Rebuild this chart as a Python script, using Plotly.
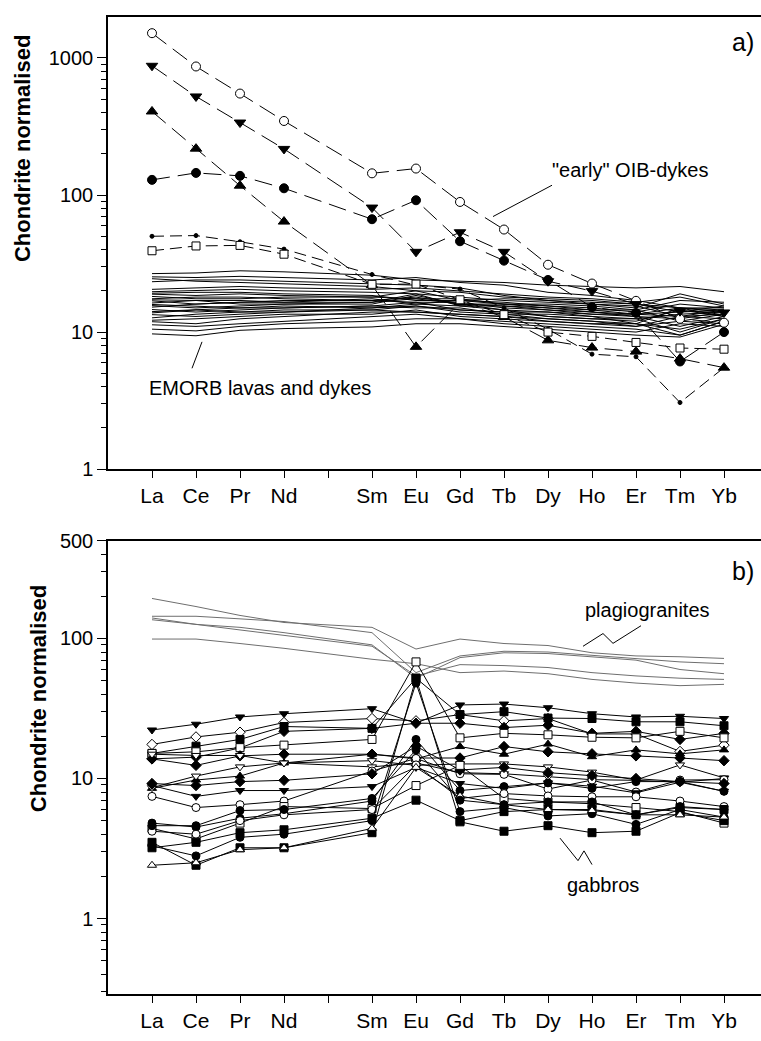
import plotly.graph_objects as go

W, H = 761, 1041

ELEMENTS = ["La", "Ce", "Pr", "Nd", "Pm", "Sm", "Eu", "Gd", "Tb", "Dy", "Ho", "Er", "Tm", "Yb"]
TICK_TEXT = ["" if e == "Pm" else e for e in ELEMENTS]
REE = [e for e in ELEMENTS if e != "Pm"]
XPOS = [ELEMENTS.index(e) for e in REE]

# ---------------- panel a : "early" OIB dykes (dashed, with markers) -------------
oib_open_circle = [1517, 867, 550, 347, 144, 156, 89, 56, 31, 22.6, 16.9, 12.5, 11.7]
oib_down_tri = [877, 524, 338, 217, 81, 38.5, 53.5, 38.5, 23.5, 19.9, 16.0, 14.2, 13.9]
oib_up_tri = [407, 218, 117, 64, 22, 7.8, 16.4, 12.9, 8.7, 7.7, 7.2, 6.4, 5.5]
oib_filled_circle = [129, 145, 138, 112, 66.6, 91.6, 46, 33.2, 24, 15.2, 13.8, 6.1, 10]
oib_small_dot = [50, 50.6, 45.6, 40.3, 26.3, 22.0, 20.6, 15.0, 10.5, 6.9, 6.6, 3.06, 5.5]
oib_open_square = [39.2, 42.5, 42.9, 37, 22.3, 22.4, 17.2, 13.4, 10, 9.3, 8.4, 7.65, 7.5]

# ---------------- panel a : EMORB lavas and dykes (solid, no markers) -------------
emorb = [
    [26.7, 27.0, 28.0, 27.5, 26.0, 24.0, 23.5, 23.0, 22.0, 21.5, 21.0, 21.5, 19.7],
    [25.3, 25.0, 25.5, 25.0, 24.0, 25.0, 23.0, 22.0, 19.5, 18.5, 17.0, 15.0, 14.5],
    [23.3, 24.0, 24.0, 23.5, 22.5, 22.0, 21.0, 18.5, 17.0, 16.0, 15.0, 19.0, 16.0],
    [19.7, 20.0, 20.5, 20.0, 19.5, 19.0, 18.0, 17.0, 16.5, 16.0, 15.5, 13.0, 14.5],
    [18.9, 18.5, 19.0, 18.5, 18.0, 20.0, 17.0, 16.5, 15.5, 15.0, 14.0, 16.0, 15.0],
    [18.2, 17.5, 17.5, 18.0, 18.0, 17.5, 17.5, 16.0, 15.5, 14.5, 14.5, 12.0, 13.5],
    [17.5, 18.0, 18.0, 17.5, 17.0, 18.0, 16.0, 15.5, 15.0, 14.0, 13.5, 15.0, 14.0],
    [16.9, 16.0, 16.5, 17.0, 17.0, 16.5, 16.5, 15.0, 14.5, 14.0, 13.0, 11.0, 13.0],
    [16.3, 17.0, 17.0, 16.5, 16.5, 19.0, 15.5, 15.5, 14.5, 13.5, 13.5, 14.0, 14.5],
    [15.6, 15.0, 15.5, 16.0, 16.5, 17.5, 16.0, 14.5, 14.0, 13.0, 12.5, 10.0, 12.5],
    [15.2, 16.0, 16.5, 16.5, 17.5, 16.0, 17.0, 16.0, 15.0, 14.5, 13.5, 13.0, 13.5],
    [14.6, 14.0, 14.5, 15.0, 15.5, 16.5, 14.5, 14.0, 13.0, 12.5, 12.0, 14.5, 13.0],
    [14.1, 14.5, 15.0, 15.0, 15.5, 15.0, 15.0, 13.5, 13.5, 13.0, 11.5, 9.5, 12.0],
    [13.4, 13.0, 13.5, 14.0, 15.0, 16.0, 15.5, 14.5, 13.0, 12.5, 12.5, 13.5, 14.0],
    [12.7, 13.5, 14.0, 14.0, 14.5, 15.5, 14.0, 13.5, 12.5, 12.0, 11.0, 12.0, 11.5],
    [11.9, 11.5, 12.5, 13.0, 14.0, 14.0, 13.5, 13.0, 12.0, 11.5, 11.5, 15.0, 13.0],
    [11.3, 11.0, 11.5, 12.0, 13.0, 13.5, 12.5, 12.0, 11.5, 11.0, 10.5, 9.5, 12.0],
    [10.5, 10.2, 11.0, 11.5, 12.0, 12.5, 12.5, 11.5, 11.0, 10.5, 10.0, 11.5, 11.0],
    [9.7, 9.4, 10.3, 10.6, 10.9, 11.5, 11.5, 11.0, 10.5, 10.0, 9.5, 9.2, 11.4],
    [19.2, 19.5, 19.5, 19.0, 18.5, 17.0, 17.0, 17.5, 17.0, 16.5, 16.0, 14.0, 15.5],
    [17.2, 17.0, 16.0, 16.0, 16.0, 18.5, 16.0, 16.0, 16.0, 15.5, 14.5, 17.0, 16.5],
    [13.8, 14.5, 14.0, 14.5, 14.5, 14.0, 13.5, 13.0, 12.5, 12.0, 11.5, 10.5, 12.5],
    [12.2, 12.5, 13.0, 13.5, 13.5, 14.5, 13.0, 12.5, 12.0, 11.5, 11.0, 13.0, 12.5],
    [15.9, 15.5, 15.0, 15.5, 15.0, 15.5, 14.5, 14.0, 14.0, 13.5, 13.0, 12.5, 14.0],
    [20.5, 21.0, 21.5, 21.0, 20.5, 21.0, 20.0, 19.0, 18.0, 17.5, 16.5, 18.0, 15.5],
    [24.5, 23.5, 23.0, 22.5, 21.5, 20.0, 19.5, 18.0, 17.5, 17.0, 16.0, 15.0, 15.0],
]

# ---------------- panel b : plagiogranites (grey, no markers) -------------
plagiogranites = [
    [193, 169, 146, 130, 120, 84, 99, 92, 89, 79, 75, 74, 72],
    [144, 144, 138, 132, 110, 57, 75, 81, 80, 76, 72, 68, 66],
    [140, 126, 120, 110, 90, 52, 73, 79, 78, 74, 70, 60, 56],
    [136, 126, 115, 105, 88, 54, 65, 64, 62, 57, 54, 52, 51],
    [99, 99, 92, 85, 71, 66, 57, 58.5, 56, 51, 48, 46, 47],
]

# ---------------- panel b : gabbros (solid, with markers) -------------
gabbros = [
    ("triangle-down", True, [22.2, 24.4, 27.5, 29, 31.5, 24.8, 33.5, 34, 32, 29, 27.5, 27.8, 26.8]),
    ("diamond", False, [17.5, 19.8, 21.4, 25.1, 26.8, 25.8, 28.6, 25.8, 26.8, 20.8, 20.8, 15.6, 17.3]),
    ("square", True, [15.1, 17, 19, 23.5, 22.8, 52, 28.6, 30, 27, 26.8, 25.4, 25.4, 23.8]),
    ("diamond", True, [13.8, 14.2, 16.5, 21.7, 22.8, 24.8, 24.8, 23.1, 24, 21, 21.7, 19, 21]),
    ("square", False, [15.1, 15.5, 16.6, 17.3, 19, 68, 19.5, 21, 20.5, 19.7, 19.5, 21.7, 19.5]),
    ("diamond", True, [13.8, 12.4, 14.5, 14.9, 14.9, 14, 14, 16.9, 15.5, 15, 14.5, 14, 13.4]),
    ("triangle-up", True, [8.5, 9.75, 10.4, 12.9, 14.9, 13.8, 16.9, 14.9, 17.6, 14.3, 16, 15, 16]),
    ("triangle-down", False, [14.9, 14.6, 14.6, 12.9, 13.4, 12.4, 12.7, 12.7, 12.1, 11.1, 9.75, 12.5, 10.1]),
    ("triangle-down", False, [8.6, 10.4, 12.1, 12.9, 12.1, 12.9, 11, 10.8, 10.3, 9.8, 9.7, 9.4, 10]),
    ("circle", False, [7.45, 6.2, 6.5, 6.9, 11.3, 13.9, 10.8, 10.7, 8.4, 9.75, 8, 9.75, 9.8]),
    ("triangle-down", True, [8.9, 7.45, 8.2, 8.2, 8.75, 12, 9.2, 8.5, 9.3, 8.8, 7.9, 9.4, 8.1]),
    ("diamond", True, [9.2, 8.9, 9.5, 9.7, 10.8, 17, 11.5, 12, 11, 10.5, 10, 9.5, 9.2]),
    ("circle", True, [4.8, 4.5, 5.2, 5.6, 6.9, 19, 8.2, 8.75, 9.3, 8.5, 9.5, 9.5, 8.1]),
    ("square", False, [4.4, 3.7, 4.8, 6.3, 6.1, 8.9, 12.4, 7.2, 6.8, 6.6, 6.2, 5.8, 4.8]),
    ("circle", False, [4.2, 4.0, 5.0, 5.5, 6.0, 12.5, 7.2, 7.8, 7.5, 7.4, 7.4, 6.9, 6.3]),
    ("square", True, [3.5, 2.4, 3.2, 3.2, 4.1, 52, 4.9, 4.2, 4.6, 4.1, 4.2, 5.7, 5.0]),
    ("circle", True, [3.3, 2.8, 3.8, 4.0, 5.0, 48, 5.8, 6.2, 5.4, 5.6, 4.7, 6.0, 5.3]),
    ("square", True, [3.2, 3.5, 4.1, 4.3, 5.2, 7.0, 5.0, 5.8, 6.0, 6.0, 5.5, 6.2, 6.0]),
    ("triangle-up", False, [2.4, 2.5, 3.1, 3.2, 4.4, 12, 7.5, 6.5, 6.0, 5.9, 5.5, 5.5, 5.3]),
    ("circle", True, [4.6, 4.6, 5.9, 6.0, 7.2, 16, 7.0, 6.5, 6.8, 6.8, 5.5, 6.3, 6.0]),
]

fig = go.Figure()


def marker(symbol, filled, size):
    return dict(symbol=symbol, size=size, color="black" if filled else "white",
                line=dict(color="black", width=1))


# panel a
for vals in emorb:
    fig.add_trace(go.Scatter(x=XPOS, y=vals, mode="lines", xaxis="x", yaxis="y",
                             line=dict(color="black", width=1), hoverinfo="skip"))

oib = [
    (oib_open_circle, "circle", False, 9, "18px,8px"),
    (oib_down_tri, "triangle-down", True, 10, "18px,8px"),
    (oib_up_tri, "triangle-up", True, 10, "18px,8px"),
    (oib_filled_circle, "circle", True, 9, "18px,8px"),
    (oib_small_dot, "circle", True, 4, "12px,6px"),
    (oib_open_square, "square", False, 8, "12px,6px"),
]
for vals, sym, filled, size, dash in oib:
    fig.add_trace(go.Scatter(x=XPOS, y=vals, mode="lines+markers", xaxis="x", yaxis="y",
                             line=dict(color="black", width=1, dash=dash),
                             marker=marker(sym, filled, size)))

# panel b
for vals in plagiogranites:
    fig.add_trace(go.Scatter(x=XPOS, y=vals, mode="lines", xaxis="x2", yaxis="y2",
                             line=dict(color="#6e6e6e", width=1)))
for sym, filled, vals in gabbros:
    fig.add_trace(go.Scatter(x=XPOS, y=vals, mode="lines+markers", xaxis="x2", yaxis="y2",
                             line=dict(color="black", width=1),
                             marker=marker(sym, filled, 8)))

XL = 108
xr = [-1, (W - XL) / 44 - 1]
tickfont_x = dict(family="Liberation Sans Narrow, Arial Narrow, Liberation Sans, Arial", size=21, color="black")
tickfont_y = dict(family="Liberation Sans, Arial", size=20, color="black")


def xaxis(anchor):
    return dict(domain=[XL / W, 1], range=xr, tickmode="array", tickvals=list(range(len(ELEMENTS))),
                ticktext=TICK_TEXT, ticks="outside", ticklen=7, tickwidth=1, tickcolor="black",
                showline=True, linecolor="black", linewidth=1.5, mirror=True, showgrid=False,
                zeroline=False, tickfont=tickfont_x, anchor=anchor, fixedrange=True)


def minor_vals(lo, hi):
    out = []
    d = 0.1
    while d < 10000:
        for m in range(2, 10):
            v = m * d
            if lo < v < hi:
                out.append(round(v, 4))
        d *= 10
    return out


def yaxis(rng_lo, rng_hi, tv, tt, dom, anchor):
    import math
    return dict(type="log", range=[math.log10(rng_lo), math.log10(rng_hi)], domain=dom,
                tickmode="array", tickvals=tv, ticktext=tt, ticks="outside", ticklen=9,
                tickwidth=1, tickcolor="black", showline=True, linecolor="black", linewidth=1.5,
                showgrid=False, zeroline=False, tickfont=tickfont_y, anchor=anchor,
                minor=dict(tickmode="array", tickvals=minor_vals(rng_lo, rng_hi), ticks="outside",
                           ticklen=5, tickwidth=1, tickcolor="black", showgrid=False))


fig.update_layout(
    width=W, height=H, margin=dict(l=0, r=0, t=0, b=0),
    paper_bgcolor="white", plot_bgcolor="white", showlegend=False,
    xaxis=xaxis("y"),
    yaxis=yaxis(1, 1995, [1, 10, 100, 1000], ["1", "10", "100", "1000"],
                [1 - 468 / H, 1 - 6 / H], "x"),
    xaxis2=xaxis("y2"),
    yaxis2=yaxis(0.29, 500, [1, 10, 100, 500], ["1", "10", "100", "500"],
                 [1 - 1004 / H, 1 - 541 / H], "x2"),
)


def px(x):
    return x / W


def py(y):
    return 1 - y / H


ann_font = dict(family="Liberation Sans, Arial", size=20, color="black")
annotations = [
    dict(x=px(22), y=py(141), text="Chondrite normalised", textangle=-90, showarrow=False,
         font=dict(family="Liberation Sans, Arial", size=22, color="black", weight="bold")),
    dict(x=px(38), y=py(703), text="Chondrite normalised", textangle=-90, showarrow=False,
         font=dict(family="Liberation Sans, Arial", size=22, color="black", weight="bold")),
    dict(x=px(743), y=py(32), text="a)", showarrow=False,
         font=dict(family="Liberation Sans, Arial", size=25, color="black")),
    dict(x=px(743), y=py(572), text="b)", showarrow=False,
         font=dict(family="Liberation Sans, Arial", size=25, color="black")),
    dict(x=px(630), y=py(162), text="\"early\" OIB-dykes", showarrow=False, font=ann_font),
    dict(x=px(260), y=py(385), text="EMORB lavas and dykes", showarrow=False, font=ann_font),
    dict(x=px(647), y=py(612), text="plagiogranites", showarrow=False, font=ann_font),
    dict(x=px(603), y=py(893), text="gabbros", showarrow=False, font=ann_font),
]
for a in annotations:
    a.update(xref="paper", yref="paper", xanchor="center", yanchor="middle")
fig.update_layout(annotations=annotations)

leaders = [
    [(493, 210), (552, 178)],
    [(192, 365), (202, 338)],
    [(583, 649), (603, 636), (613, 646), (641, 628)],
    [(560, 845), (578, 868), (584, 858), (592, 872)],
]
for pts in leaders:
    path = "M " + " L ".join(f"{px(x)} {py(y)}" for x, y in pts)
    fig.add_shape(type="path", path=path, xref="paper", yref="paper",
                  line=dict(color="black", width=1))

fig.write_html("out.html")
